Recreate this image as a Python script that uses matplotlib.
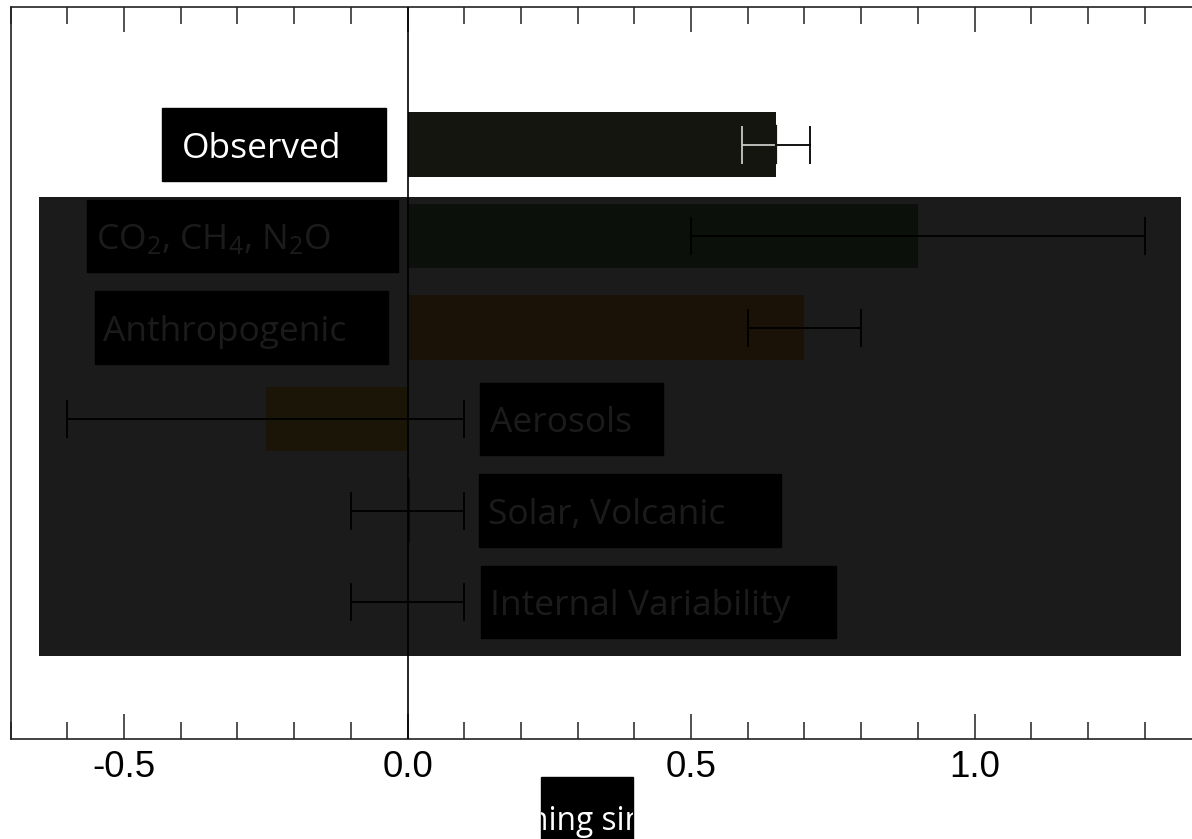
import matplotlib
matplotlib.use("Agg")
import matplotlib.pyplot as plt
from matplotlib.patches import Rectangle
from matplotlib.ticker import MultipleLocator, FixedLocator, FormatStrFormatter

plt.rcParams['font.family'] = ['Open Sans', 'DejaVu Sans']
plt.rcParams['mathtext.fontset'] = 'custom'
plt.rcParams['mathtext.rm'] = 'Open Sans'
plt.rcParams['mathtext.it'] = 'Open Sans:italic'
plt.rcParams['mathtext.default'] = 'regular'
plt.rcParams['axes.unicode_minus'] = False

# data (warming contributions, degC)
labels = ["Observed", "CO$_2$, CH$_4$, N$_2$O", "Anthropogenic",
          "Aerosols", "Solar, Volcanic", "Internal Variability"]
values = [0.65, 0.9, 0.7, -0.25, 0.005, 0.0]
err_low = [0.59, 0.5, 0.6, -0.6, -0.1, -0.1]
err_high = [0.71, 1.3, 0.8, 0.1, 0.1, 0.1]
colors = ["#15150f", "#68a05e", "#f0a838", "#f2c63a", "#3a70b8", "#888888"]
ypos = [5, 4, 3, 2, 1, 0]

# label layout: text left x, box left x, box right x (data units)
label_text_x = [-0.398, -0.549, -0.537, 0.1455, 0.142, 0.1455]
label_box = [(-0.433, -0.038), (-0.565, -0.017), (-0.551, -0.034),
             (0.128, 0.451), (0.126, 0.659), (0.1296, 0.756)]

fig = plt.figure(figsize=(11.92, 8.39), dpi=100)
ax = fig.add_axes([10.6 / 1192, 1 - 738.7 / 839, 1190.7 / 1192, (738.7 - 7) / 839])

ax.barh(ypos, values, height=0.71, color=colors, zorder=2)
ax.axvline(0, color='black', lw=1.2, zorder=3)

xerr = [[v - lo for v, lo in zip(values, err_low)],
        [hi - v for v, hi in zip(values, err_high)]]
ax.errorbar(values[1:], ypos[1:], xerr=[xerr[0][1:], xerr[1][1:]], fmt='none',
            ecolor='black', elinewidth=1.3, capsize=13.5, capthick=1.3, zorder=4)
# observed: light part over the bar, black part outside
ax.errorbar(values[0], ypos[0], xerr=[[xerr[0][0]], [0]], fmt='none',
            ecolor='#c8c8c8', elinewidth=1.3, capsize=13.5, capthick=1.3, zorder=4)
ax.plot([values[0], err_high[0]], [ypos[0], ypos[0]], color='black', lw=1.3, zorder=4)
ax.plot([err_high[0]], [ypos[0]], marker='|', markersize=27, markeredgewidth=1.3,
        color='black', zorder=4)
ax.plot([values[0], values[0]], [ypos[0] - 0.2, ypos[0] + 0.2], color='#15150f',
        lw=1.6, zorder=4)

for lab, tx, (b0, b1), y in zip(labels, label_text_x, label_box, ypos):
    ax.add_patch(Rectangle((b0, y - 0.395), b1 - b0, 0.79, color='black', zorder=5))
    ax.text(tx, y - 0.145, lab, color='white', fontsize=25.5, va='baseline',
            ha='left', zorder=6)

# dark veil over the lower rows
ax.add_patch(Rectangle((-0.65, -0.59), 1.3635 + 0.65, 4.426 + 0.59,
                       color='black', alpha=0.894, lw=0, zorder=10))

ax.set_xlim(-0.7, 1.4)
ax.set_ylim(-1.494, 6.503)
ax.xaxis.set_major_locator(FixedLocator([-0.5, 0.0, 0.5, 1.0]))
ax.xaxis.set_minor_locator(MultipleLocator(0.1))
ax.xaxis.set_major_formatter(FormatStrFormatter('%.1f'))
ax.tick_params(axis='x', which='both', direction='in', top=True, bottom=True,
               width=1.1, color='#222222')
ax.tick_params(axis='x', which='major', length=18, pad=8, labelsize=26.5)
ax.tick_params(axis='x', which='minor', length=12)
for lbl in ax.get_xticklabels():
    lbl.set_fontfamily('Liberation Sans')
ax.set_yticks([])
for s in ['left', 'bottom', 'top', 'right']:
    ax.spines[s].set_color('#222222')
    ax.spines[s].set_linewidth(1.2)

# partly hidden x-axis caption
win = Rectangle((541 / 1192, 0), 92 / 1192, 62 / 839, transform=fig.transFigure,
                color='black', zorder=1)
fig.patches.append(win)
cap = fig.text(529 / 1192, 9 / 839, "ning since", color='white', fontsize=22.8,
               va='baseline', ha='left')
cap.set_clip_path(win)

fig.savefig("out.png", dpi=100)
